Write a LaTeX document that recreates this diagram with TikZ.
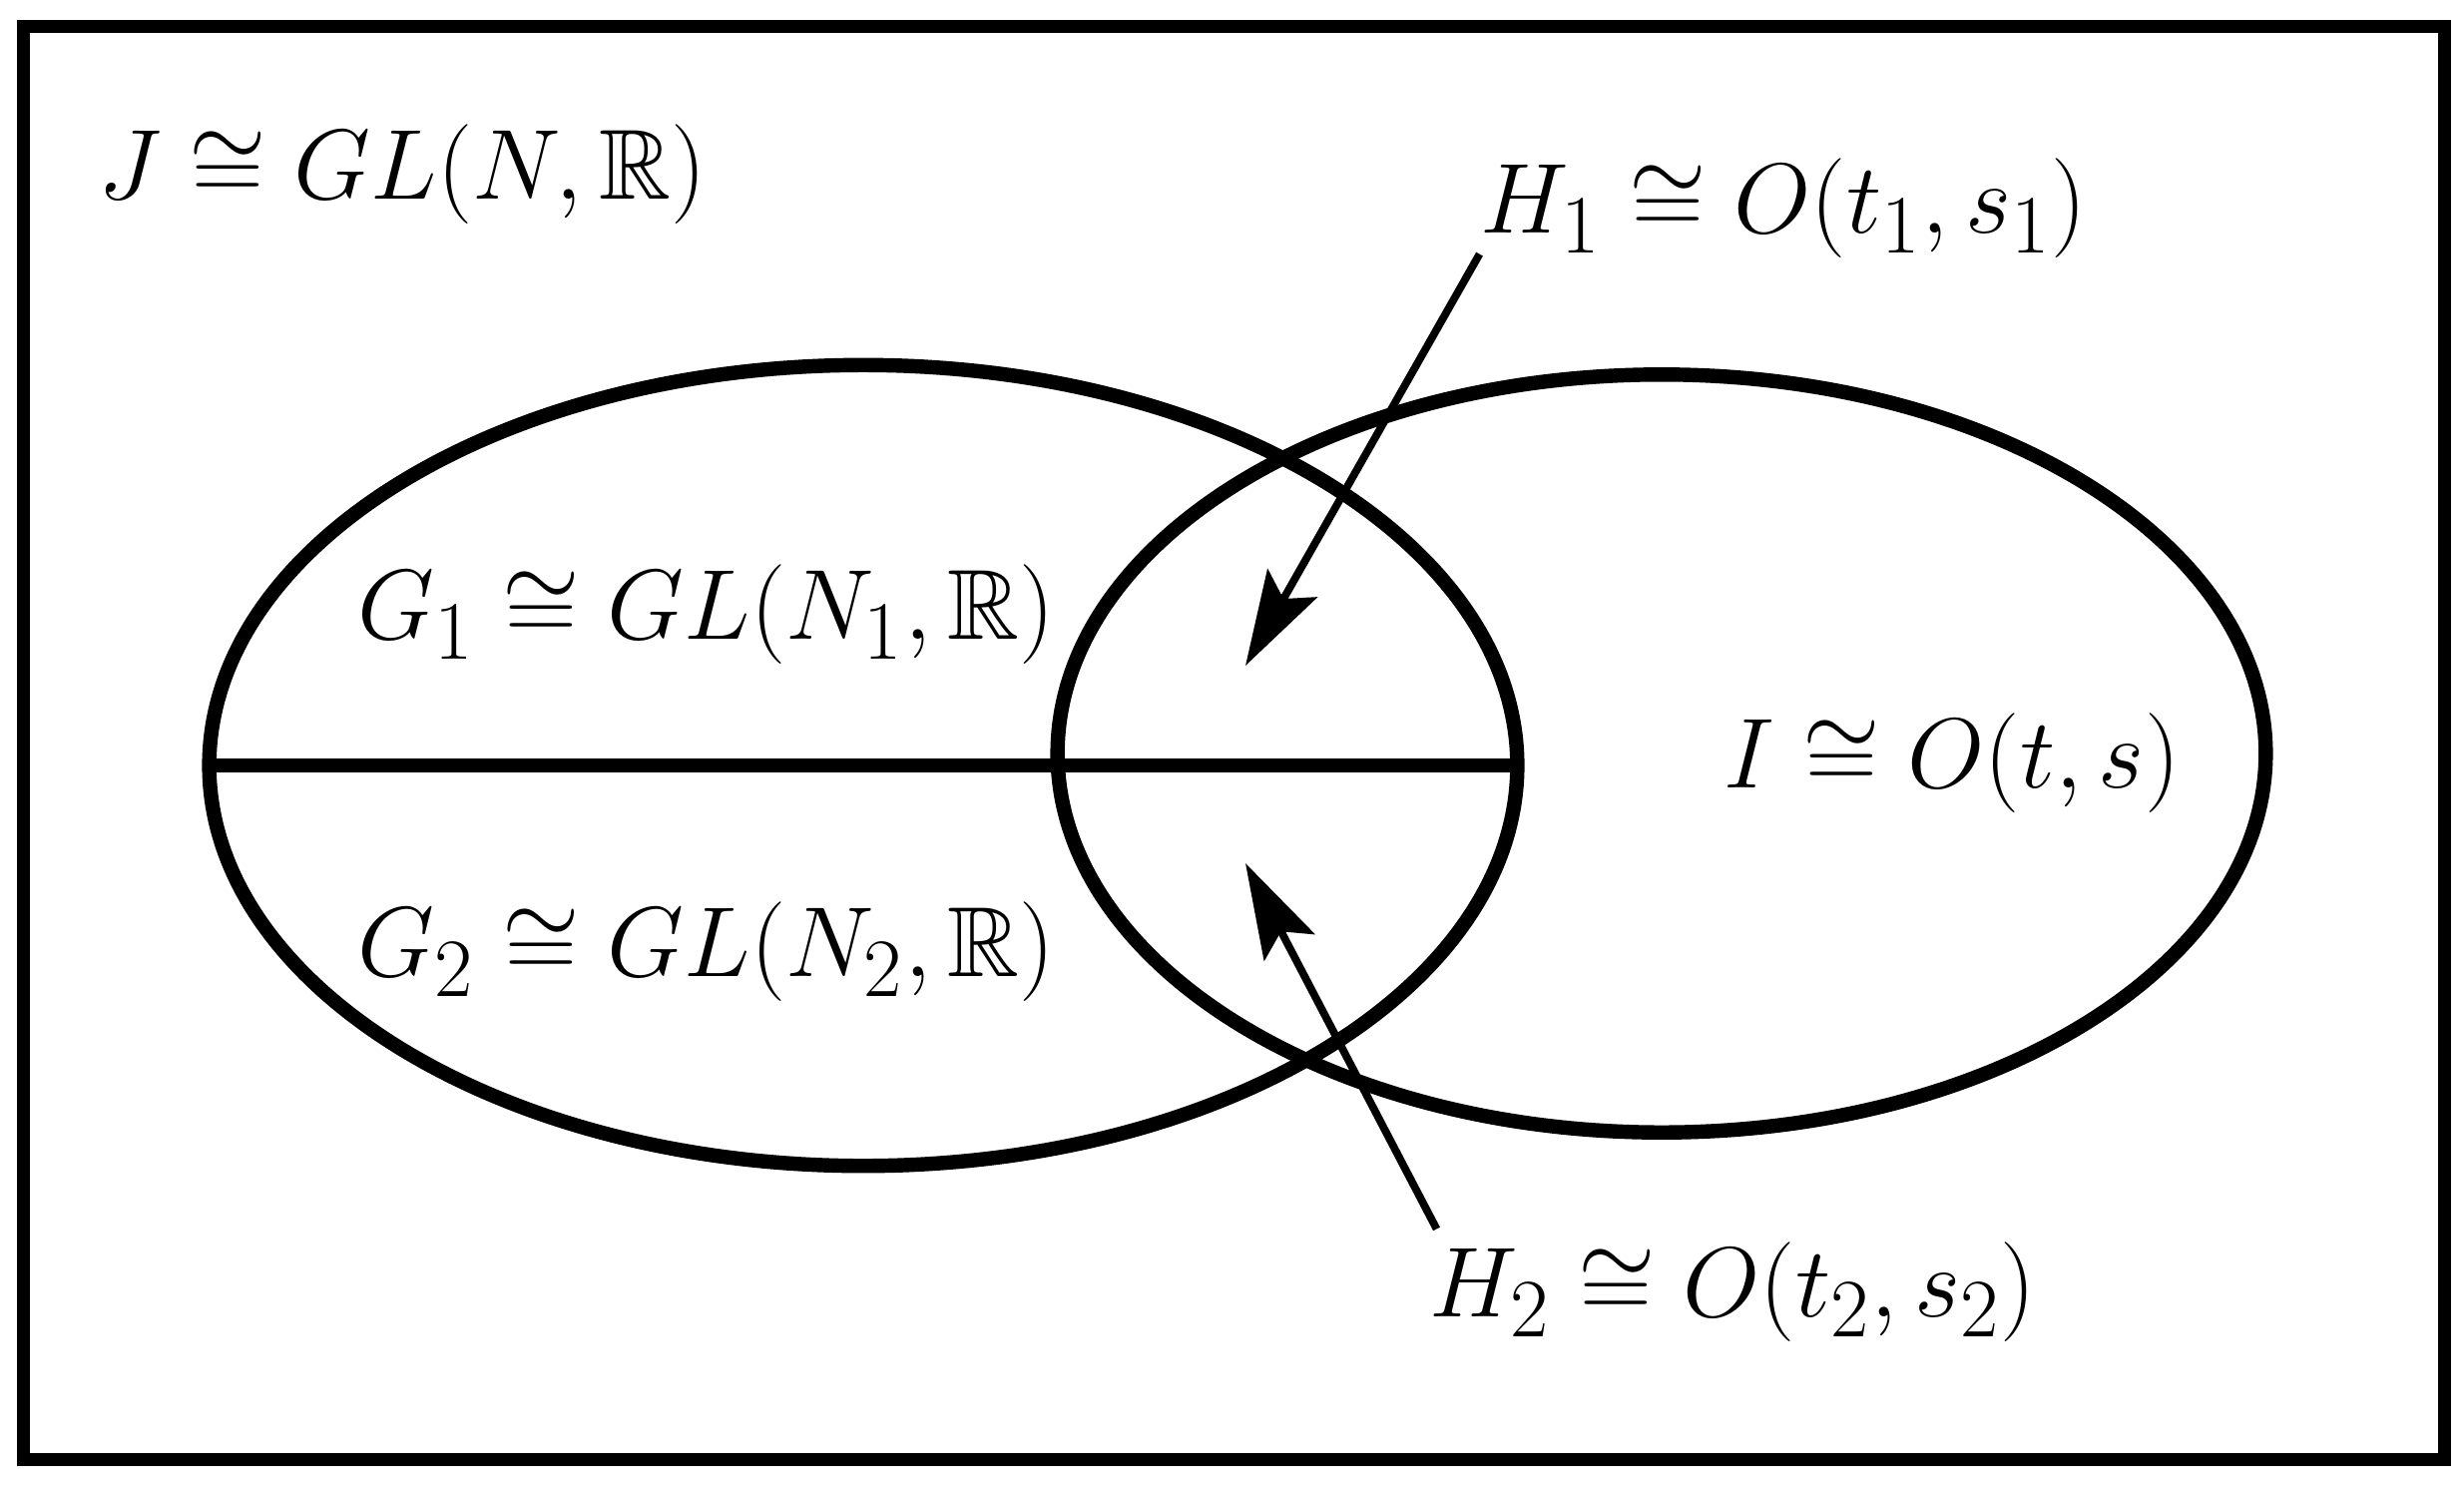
\documentclass[tikz,border=0pt]{standalone}
\usepackage{amssymb}
\usetikzlibrary{arrows.meta,shapes.geometric}
\begin{document}
\begin{tikzpicture}[x=0.01cm,y=-0.01cm,
  every node/.style={font=\fontsize{24.88}{30}\selectfont, inner sep=0pt},
  lbl/.style={scale=1.14},
  frame/.style={line width=3.7pt},
  setell/.style={draw, ellipse, line width=4.1pt, inner sep=0pt, outer sep=0pt},
  divider/.style={line width=4.1pt},
  arr/.style={line width=2.2pt, -{Stealth[length=0.95cm, width=0.57cm, inset=0.18cm]}}]
\useasboundingbox (0,0) rectangle (2469,1490);
\draw[frame] (23.5,26.5) rectangle (2449,1462);
\node[setell, minimum width=13.10cm, minimum height=8.02cm] (L) at (865,767) {};
\node[setell, minimum width=12.10cm, minimum height=7.59cm] (R) at (1665,755) {};
\draw[divider] (L.west) -- (L.east);
\node[lbl] (J) at (403,175) {$J \cong GL(N,\mathbb{R})$};
\node[lbl] (H1) at (1787,209) {$H_1 \cong O(t_1,s_1)$};
\node[lbl] (G1) at (708,616) {$G_1 \cong GL(N_1,\mathbb{R})$};
\node[lbl] (G2) at (708,954) {$G_2 \cong GL(N_2,\mathbb{R})$};
\node[lbl] (I) at (1956,765) {$I \cong O(t,s)$};
\node[lbl] (H2) at (1736,1295) {$H_2 \cong O(t_2,s_2)$};
\coordinate (t1) at (1248,667);
\coordinate (t2) at (1248,865);
\draw[arr] ([shift={(0,-5)}]H1.south west) -- (t1);
\draw[arr] ([shift={(8,-13)}]H2.north west) -- (t2);
\end{tikzpicture}
\end{document}
